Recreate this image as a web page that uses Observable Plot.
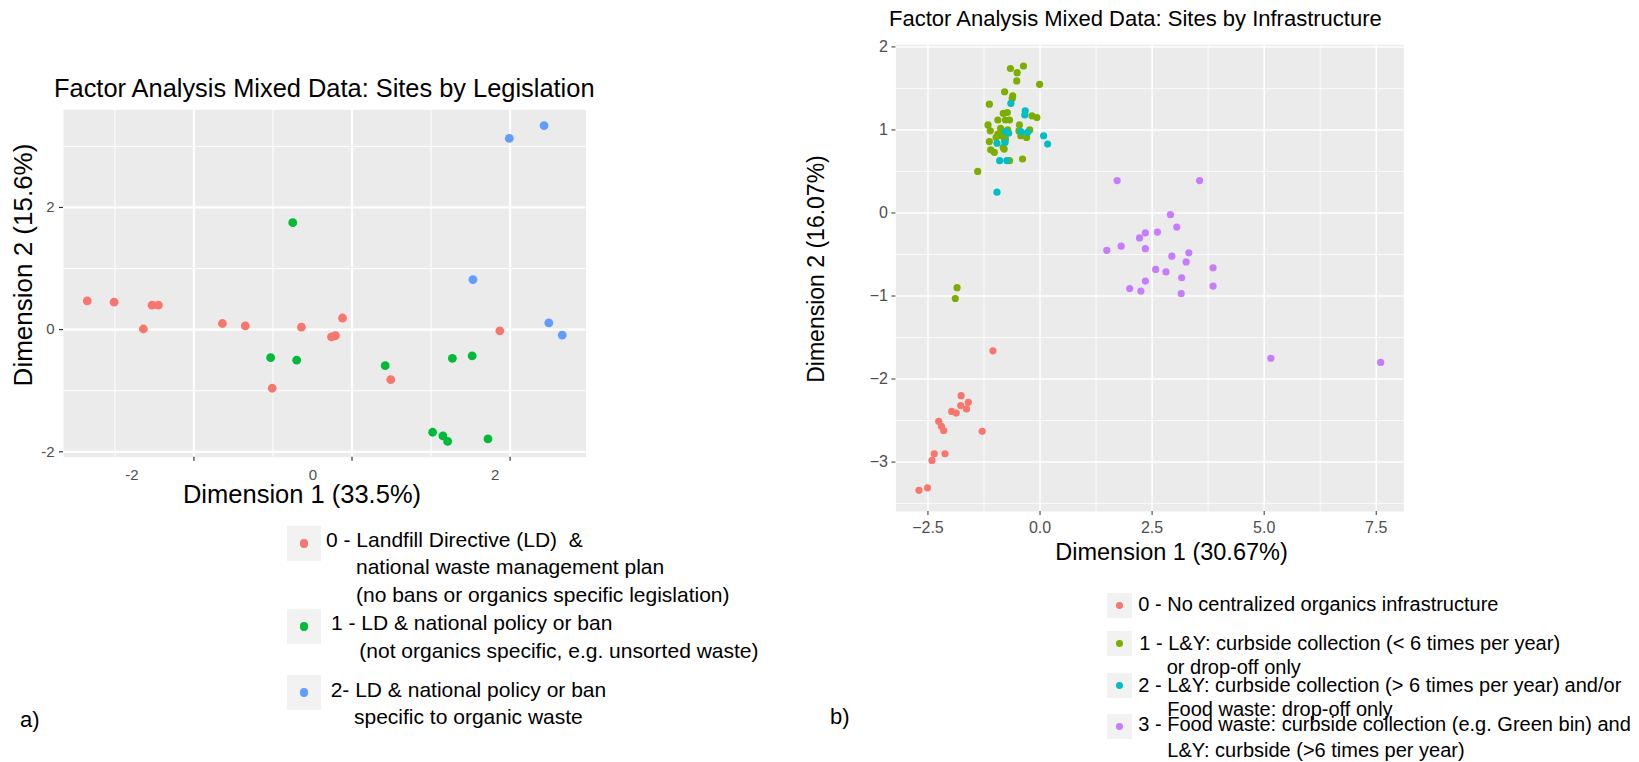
<!DOCTYPE html>
<html>
<head>
<meta charset="utf-8">
<script src="https://cdn.jsdelivr.net/npm/d3@7"></script>
<script src="https://cdn.jsdelivr.net/npm/@observablehq/plot@0.6"></script>
<style>
  html, body { margin: 0; padding: 0; background: #fff; }
  #root { position: relative; width: 1639px; height: 762px; overflow: hidden;
          font-family: "Liberation Sans", Arial, Helvetica, sans-serif; color: #000; }
  .abs { position: absolute; white-space: pre; line-height: 1; }
  .key { position: absolute; background: #F2F2F2; }
  .key span { position: absolute; border-radius: 50%; }
</style>
</head>
<body>
<div id="root"></div>
<script>
// ---------- Panel a) : Sites by Legislation ----------
const legislationCats = ["0", "1", "2"];
const legislationColors = ["#F8766D", "#00BA38", "#619CFF"];
const legislationLabels = [
  ["0 - Landfill Directive (LD)  &", "national waste management plan", "(no bans or organics specific legislation)"],
  ["1 - LD & national policy or ban", "(not organics specific, e.g. unsorted waste)"],
  ["2- LD & national policy or ban", "specific to organic waste"]
];
const leg0X = [-3.35, -3.01, -2.53, -2.45, -2.64, -1.64, -1.35, -0.64, -0.26, -0.21, -0.12, -1.01, 0.49, 1.87];
const leg0Y = [0.47, 0.45, 0.40, 0.40, 0.01, 0.10, 0.06, 0.04, -0.12, -0.10, 0.19, -0.96, -0.82, -0.02];
const leg1X = [-0.75, -1.03, -0.70, 0.42, 1.27, 1.52, 1.02, 1.15, 1.21, 1.72];
const leg1Y = [1.75, -0.46, -0.50, -0.59, -0.47, -0.43, -1.68, -1.74, -1.83, -1.79];
const leg2X = [1.99, 2.43, 1.53, 2.49, 2.66];
const leg2Y = [3.13, 3.34, 0.82, 0.11, -0.09];
const legMajorX = [-2, 0, 2], legMinorX = [-3, -1, 1];
const legMajorY = [-2, 0, 2], legMinorY = [-1, 1, 3];

// ---------- Panel b) : Sites by Infrastructure ----------
const infraCats = ["0", "1", "2", "3"];
const infraColors = ["#F8766D", "#7CAE00", "#00BFC4", "#C77CFF"];
const infraLabels = [
  ["0 - No centralized organics infrastructure"],
  ["1 - L&Y: curbside collection (< 6 times per year)", "or drop-off only"],
  ["2 - L&Y: curbside collection (> 6 times per year) and/or", "Food waste: drop-off only"],
  ["3 - Food waste: curbside collection (e.g. Green bin) and", "L&Y: curbside (>6 times per year)"]
];
const inf0X = [-1.05, -1.76, -1.77, -1.60, -1.64, -1.97, -1.87, -2.26, -2.20, -2.15, -1.29, -2.36, -2.12, -2.41, -2.51, -2.70];
const inf0Y = [-1.66, -2.20, -2.32, -2.28, -2.36, -2.39, -2.41, -2.51, -2.57, -2.62, -2.63, -2.90, -2.90, -2.98, -3.31, -3.34];
const inf1X = [-0.66, -0.37, -0.51, -0.52, -0.01, -0.79, -0.61, -0.62, -1.13, -0.82, -0.73, -0.18, -0.07, -0.94, -0.77, -0.68, -1.16, -0.46, -0.88, -0.23, -1.11, -0.47, -0.79, -0.94, -0.43, -0.98, -0.30, -0.77, -0.79, -1.13, -0.82, -0.80, -1.10, -1.02, -0.68, -0.39, -1.39, -0.86, -0.72, -1.85, -1.89];
const inf1Y = [1.74, 1.77, 1.69, 1.59, 1.55, 1.46, 1.41, 1.38, 1.31, 1.20, 1.21, 1.17, 1.15, 1.12, 1.12, 1.12, 1.06, 1.06, 1.02, 1.00, 0.99, 0.99, 0.97, 0.95, 0.93, 0.91, 0.91, 0.89, 0.87, 0.86, 0.79, 0.77, 0.76, 0.73, 0.63, 0.65, 0.50, 0.93, 1.00, -0.90, -1.03];
const inf2X = [-0.65, -0.33, -0.34, -0.77, -0.70, -0.43, -0.28, 0.08, 0.17, -0.96, -0.90, -0.74, -0.96, -0.78];
const inf2Y = [1.32, 1.23, 1.18, 0.98, 0.96, 0.98, 0.97, 0.93, 0.83, 0.84, 0.63, 0.63, 0.25, 0.85];
const inf3X = [1.72, 3.56, 2.91, 3.05, 2.62, 2.35, 2.22, 1.49, 1.81, 2.35, 3.32, 2.94, 3.26, 3.86, 2.58, 2.81, 3.16, 2.35, 3.86, 2.00, 2.25, 3.15, 5.15, 7.60];
const inf3Y = [0.39, 0.39, -0.02, -0.17, -0.23, -0.24, -0.30, -0.45, -0.40, -0.43, -0.48, -0.52, -0.59, -0.66, -0.68, -0.71, -0.78, -0.82, -0.88, -0.91, -0.94, -0.97, -1.75, -1.80];
const infMajorX = [-2.5, 0, 2.5, 5, 7.5], infMinorX = [-1.25, 1.25, 3.75, 6.25];
const infMajorY = [-3, -2, -1, 0, 1, 2], infMinorY = [-3.5, -2.5, -1.5, -0.5, 0.5, 1.5];

// ---------- helpers ----------
function rows(cats, xs, ys) {
  const out = [];
  cats.forEach((c, i) => xs[i].forEach((x, j) => out.push({cat: c, x, y: ys[i][j]})));
  return out;
}
function expand(vals) { // ggplot-like 5% expansion
  const [a, b] = d3.extent(vals); const p = (b - a) * 0.05; return [a - p, b + p];
}
const FONT = '"Liberation Sans", Arial, Helvetica, sans-serif';
const root = document.getElementById("root");
function place(el, left, top) { el.style.position = "absolute"; el.style.left = left + "px"; el.style.top = top + "px"; root.appendChild(el); }
function text(str, left, cy, size, opts = {}) {
  const d = document.createElement("div");
  d.className = "abs"; d.textContent = str; d.style.fontSize = size + "px";
  d.style.left = left + "px"; d.style.top = (cy - size / 2) + "px";
  if (opts.center) d.style.transform = "translateX(-50%)";
  if (opts.rotate) { d.style.top = cy + "px"; d.style.transform = "translate(-50%,-50%) rotate(-90deg)"; }
  root.appendChild(d); return d;
}
function key(left, top, size, color, r) {
  const k = document.createElement("div"); k.className = "key";
  k.style.left = left + "px"; k.style.top = top + "px"; k.style.width = size + "px"; k.style.height = size + "px";
  const s = document.createElement("span");
  s.style.width = s.style.height = (2 * r) + "px"; s.style.background = color;
  s.style.left = (size / 2 - r) + "px"; s.style.top = (size / 2 - r) + "px";
  k.appendChild(s); root.appendChild(k);
}

// ---------- Plot a) ----------
const legData = rows(legislationCats, [leg0X, leg1X, leg2X], [leg0Y, leg1Y, leg2Y]);
const plotA = Plot.plot({
  width: 600, height: 510,
  marginLeft: 63, marginRight: 14.5, marginTop: 109.3, marginBottom: 53.3,
  style: {background: "transparent", fontFamily: FONT, overflow: "visible"},
  x: {domain: expand(legData.map(d => d.x)), label: null},
  y: {domain: expand(legData.map(d => d.y)), label: null},
  color: {domain: legislationCats, range: legislationColors},
  marks: [
    Plot.frame({fill: "#EBEBEB", stroke: "none"}),
    Plot.gridX(legMinorX, {stroke: "#fff", strokeOpacity: 1, strokeWidth: 1}),
    Plot.gridY(legMinorY, {stroke: "#fff", strokeOpacity: 1, strokeWidth: 1}),
    Plot.gridX(legMajorX, {stroke: "#fff", strokeOpacity: 1, strokeWidth: 2.2}),
    Plot.gridY(legMajorY, {stroke: "#fff", strokeOpacity: 1, strokeWidth: 2.2}),
    Plot.dot(legData, {x: "x", y: "y", fill: "cat", r: 4.4, stroke: "none"}),
    Plot.axisX(legMajorX, {tickSize: 4, text: null, stroke: "#333", strokeWidth: 1.2, label: null}),
    Plot.axisX([legMajorX[0]], {tickSize: 0, tickPadding: 12, dx: -62, fontSize: 15, fill: "#4D4D4D", tickFormat: d => String(d), label: null}),
    Plot.axisX([legMajorX[1]], {tickSize: 0, tickPadding: 12, dx: -39, fontSize: 15, fill: "#4D4D4D", tickFormat: d => String(d), label: null}),
    Plot.axisX([legMajorX[2]], {tickSize: 0, tickPadding: 12, dx: -15, fontSize: 15, fill: "#4D4D4D", tickFormat: d => String(d), label: null}),
    Plot.axisY(legMajorY, {tickSize: 4, tickPadding: 5, fontSize: 15, fill: "#4D4D4D", stroke: "#333", strokeWidth: 1.2, tickFormat: d => String(d), label: null})
  ]
});
place(plotA, 0, 0);

// ---------- Plot b) ----------
const infData = rows(infraCats, [inf0X, inf1X, inf2X, inf3X], [inf0Y, inf1Y, inf2Y, inf3Y]);
const plotB = Plot.plot({
  width: 640, height: 560,
  marginLeft: 115.4, marginRight: 16.7, marginTop: 44.3, marginBottom: 49,
  style: {background: "transparent", fontFamily: FONT, overflow: "visible"},
  x: {domain: expand(infData.map(d => d.x)), label: null},
  y: {domain: expand(infData.map(d => d.y)), label: null},
  color: {domain: infraCats, range: infraColors},
  marks: [
    Plot.frame({fill: "#EBEBEB", stroke: "none"}),
    Plot.gridX(infMinorX, {stroke: "#fff", strokeOpacity: 1, strokeWidth: 0.8}),
    Plot.gridY(infMinorY, {stroke: "#fff", strokeOpacity: 1, strokeWidth: 0.8}),
    Plot.gridX(infMajorX, {stroke: "#fff", strokeOpacity: 1, strokeWidth: 1.5}),
    Plot.gridY(infMajorY, {stroke: "#fff", strokeOpacity: 1, strokeWidth: 1.5}),
    Plot.dot(infData, {x: "x", y: "y", fill: "cat", r: 3.6, stroke: "none"}),
    Plot.axisX(infMajorX, {tickSize: 4, tickPadding: 6, fontSize: 16, fill: "#4D4D4D", stroke: "#333", tickFormat: d3.format(".1f"), label: null}),
    Plot.axisY(infMajorY, {tickSize: 4, tickPadding: 4, fontSize: 16, fill: "#4D4D4D", stroke: "#333", tickFormat: d3.format("d"), label: null})
  ]
});
place(plotB, 780, 0);

// ---------- titles & axis titles ----------
text("Factor Analysis Mixed Data: Sites by Legislation", 54, 89, 25.4);
text("Factor Analysis Mixed Data: Sites by Infrastructure", 889, 18.5, 22);
text("Dimension 2 (15.6%)", 23, 264.5, 26, {rotate: true});
text("Dimension 1 (33.5%)", 302, 495, 25.5, {center: true});
text("Dimension 2 (16.07%)", 816, 268.5, 23, {rotate: true});
text("Dimension 1 (30.67%)", 1171.5, 553, 23.5, {center: true});
text("a)", 20, 720, 22);
text("b)", 830, 717, 22);

// ---------- legend a) ----------
const legKeyTops = [526, 609.3, 675];
const legLineLeft = [[326, 356, 356], [331, 359.3], [330.7, 354]];
const legLineCy = [[539.3, 566, 594.3], [622.3, 650], [689.3, 716.7]];
legislationCats.forEach((c, i) => {
  key(286.7, legKeyTops[i], 34.5, legislationColors[i], 4.3);
  legislationLabels[i].forEach((s, j) => text(s, legLineLeft[i][j], legLineCy[i][j], 21));
});

// ---------- legend b) ----------
const infKeyTops = [593.3, 631, 673.3, 714];
const infLineLeft = [[1138.3], [1139.3, 1166.7], [1138.3, 1167.3], [1138.3, 1167.3]];
const infLineCy = [[604.3], [643.3, 666.7], [685, 709], [724, 750]];
infraCats.forEach((c, i) => {
  key(1106.7, infKeyTops[i], 25, infraColors[i], 3.4);
  infraLabels[i].forEach((s, j) => text(s, infLineLeft[i][j], infLineCy[i][j], 20));
});
</script>
</body>
</html>
